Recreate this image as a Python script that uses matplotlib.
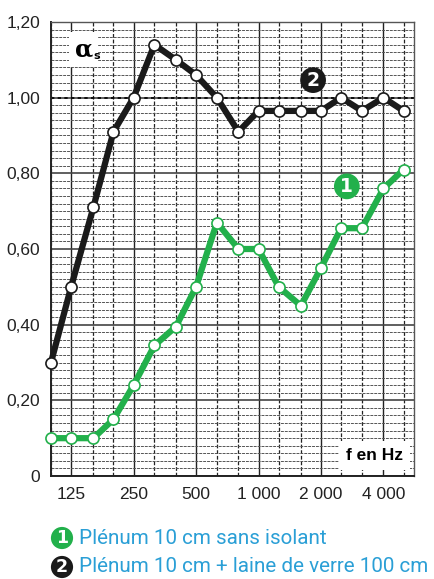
import numpy as np
from matplotlib import pyplot as plt
from matplotlib.ticker import FixedLocator, NullFormatter

# third-octave band centre frequencies (Hz)
freqs = [100, 125, 160, 200, 250, 315, 400, 500, 630, 800,
         1000, 1250, 1600, 2000, 2500, 3150, 4000, 5000]

# 1 : plenum 10 cm sans isolant
alpha_1 = [0.10, 0.10, 0.10, 0.15, 0.24, 0.345, 0.395, 0.50, 0.67, 0.60,
           0.60, 0.50, 0.45, 0.55, 0.655, 0.655, 0.76, 0.81]
# 2 : plenum 10 cm + laine de verre 100 cm
alpha_2 = [0.30, 0.50, 0.71, 0.91, 1.00, 1.14, 1.10, 1.06, 1.00, 0.91,
           0.965, 0.965, 0.965, 0.965, 1.00, 0.965, 1.00, 0.965]

octaves = [125, 250, 500, 1000, 2000, 4000]
octave_labels = ['125', '250', '500', '1 000', '2 000', '4 000']
y_ticks = [0, 0.2, 0.4, 0.6, 0.8, 1.0, 1.2]
y_labels = ['0', '0,20', '0,40', '0,60', '0,80', '1,00', '1,20']

legend_1 = 'Plénum 10 cm sans isolant'
legend_2 = 'Plénum 10 cm + laine de verre 100 cm'

green = '#22b04b'
blue = '#2a9fd6'
tick_font = 'Liberation Sans'

fig = plt.figure(figsize=(4.34, 5.79), dpi=100)
ax = fig.add_axes([51/434, 1 - 476/579, 363/434, 454/579])

ax.set_xscale('log')
ax.set_xlim(100, 5000 * 2 ** (1/6))
ax.set_ylim(0, 1.2)

# grid: octaves solid, third-octaves dashed; 0.2 solid, 0.02 dashed
ax.xaxis.set_major_locator(FixedLocator(octaves))
ax.xaxis.set_minor_locator(FixedLocator([f for f in freqs if f not in octaves]))
ax.xaxis.set_minor_formatter(NullFormatter())
ax.set_xticklabels(octave_labels)
ax.yaxis.set_major_locator(FixedLocator(y_ticks))
ax.yaxis.set_minor_locator(FixedLocator(np.arange(0.02, 1.2, 0.02)))
ax.set_yticklabels(y_labels)

ax.grid(which='major', axis='x', color='#222222', lw=1.0, ls='-')
ax.grid(which='minor', axis='x', color='#222222', lw=0.9, ls=(0, (3, 1.5)))
ax.grid(which='major', axis='y', color='#444444', lw=1.2, ls='-')
ax.grid(which='minor', axis='y', color='#555555', lw=0.7, ls=(0, (3, 1)))
ax.axhline(1.0, color='black', lw=1.2, ls=(0, (2, 2)), zorder=1.5)
ax.set_axisbelow(True)

ax.tick_params(which='both', length=0)
ax.tick_params(axis='y', pad=8)
ax.tick_params(axis='x', pad=8)
for lab in ax.get_xticklabels() + ax.get_yticklabels():
    lab.set_fontfamily(tick_font)
    lab.set_fontsize(12.5)
    lab.set_color('#222222')

for s in ax.spines.values():
    s.set_linewidth(1.4)
    s.set_color('#222222')
ax.spines['top'].set_color('#555555')
ax.spines['right'].set_color('#555555')
ax.spines['top'].set_linewidth(1.0)
ax.spines['right'].set_linewidth(1.0)

ax.plot(freqs, alpha_2, color='#1a1a1a', lw=4.5, marker='o', ms=8,
        mfc='white', mec='#1a1a1a', mew=1.2, zorder=4, clip_on=False)
ax.plot(freqs, alpha_1, color=green, lw=4.5, marker='o', ms=8,
        mfc='white', mec=green, mew=1.2, zorder=4, clip_on=False)

# labels inside the plot
ax.text(0.09, 0.94, 'α', transform=ax.transAxes, fontsize=17, weight='bold',
        family='DejaVu Serif', ha='center', va='center', zorder=5,
        bbox=dict(fc='white', ec='none', pad=4))
ax.text(0.125, 0.925, 's', transform=ax.transAxes, fontsize=8, weight='bold',
        ha='center', va='center', zorder=6)
ax.text(0.89, 0.046, 'f en Hz', transform=ax.transAxes, fontsize=12.5,
        weight='bold', family=tick_font, ha='center', va='center', zorder=5,
        bbox=dict(fc='white', ec='none', pad=5))

# numbered badges
ax.text(0.722, 0.872, '2', transform=ax.transAxes, fontsize=13.5, weight='bold',
        color='white', ha='center', va='center', zorder=6,
        bbox=dict(boxstyle='circle,pad=0.18', fc='#1a1a1a', ec='none'))
ax.text(0.815, 0.638, '1', transform=ax.transAxes, fontsize=13.5, weight='bold',
        color='white', ha='center', va='center', zorder=6,
        bbox=dict(boxstyle='circle,pad=0.18', fc=green, ec='none'))

# legend below the chart
fig.text(62/434, 1 - 538/579, '1', fontsize=12.5, weight='bold', color='white',
         ha='center', va='center',
         bbox=dict(boxstyle='circle,pad=0.12', fc=green, ec='none'))
fig.text(62/434, 1 - 567/579, '2', fontsize=12.5, weight='bold', color='white',
         ha='center', va='center',
         bbox=dict(boxstyle='circle,pad=0.12', fc='#1a1a1a', ec='none'))
fig.text(79/434, 1 - 538/579, legend_1, fontsize=14.9, color=blue,
         family='Roboto', ha='left', va='center')
fig.text(79/434, 1 - 567/579, legend_2, fontsize=14.9, color=blue,
         family='Roboto', ha='left', va='center')

fig.savefig('out.png', dpi=100)
